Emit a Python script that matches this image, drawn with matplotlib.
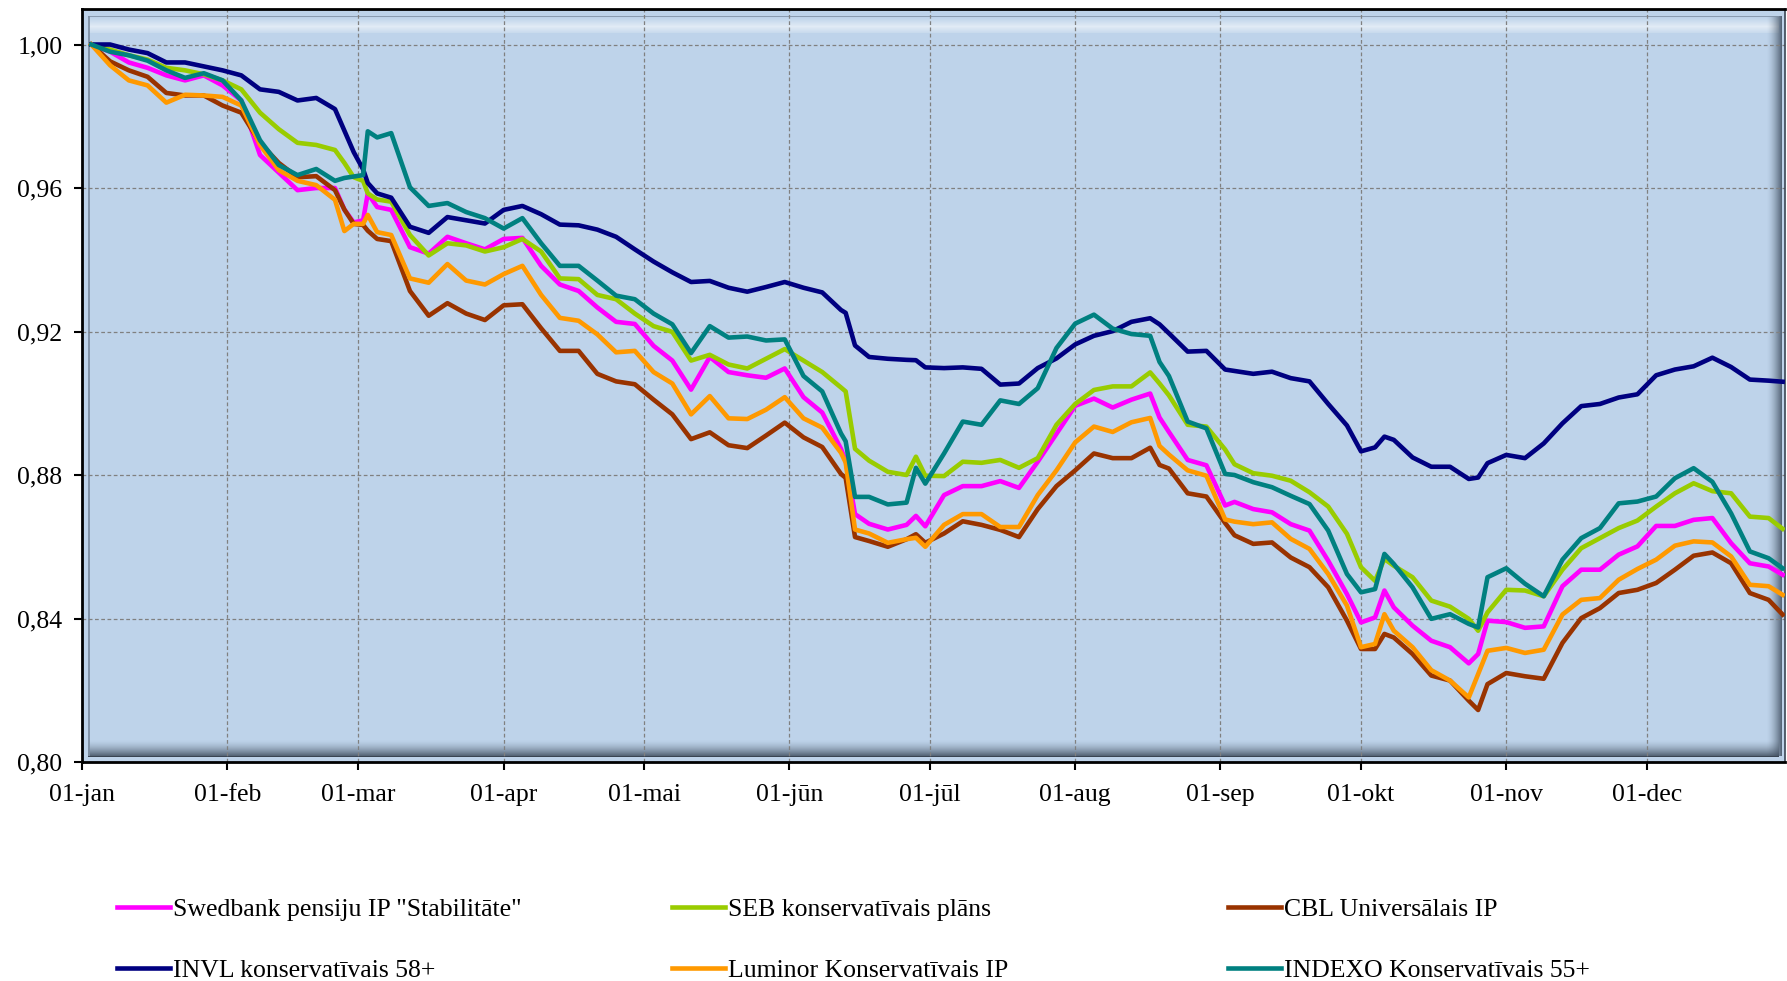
import matplotlib
matplotlib.use("Agg")
import matplotlib.pyplot as plt
from matplotlib.patches import Rectangle
import pandas as pd

# days counted from 1 Jan 2022
day_offsets = [2, 6, 10, 14, 18, 22, 26, 30, 34, 38,
               42, 46, 50, 54, 56, 58, 60, 61, 63, 66,
               70, 74, 78, 82, 86, 90, 94, 98, 102, 106,
               110, 114, 118, 122, 126, 130, 134, 138, 142, 146,
               150, 154, 158, 162, 163, 165, 168, 172, 176, 178,
               180, 184, 188, 192, 196, 200, 204, 208, 212, 216,
               220, 224, 228, 230, 232, 236, 240, 244, 246, 250,
               254, 258, 262, 266, 270, 273, 276, 278, 280, 284,
               288, 292, 296, 298, 300, 304, 308, 312, 316, 320,
               324, 328, 332, 336, 340, 344, 348, 352, 356, 360,
               363]

swedbank = [1.000, 0.998, 0.995, 0.9935, 0.9914, 0.990, 0.9914, 0.9886, 0.9844, 0.9692,
            0.9643, 0.9594, 0.960, 0.960, 0.954, 0.9504, 0.951, 0.9585, 0.9547, 0.9539,
            0.9435, 0.9417, 0.9464, 0.9446, 0.9429, 0.9458, 0.9461, 0.9383, 0.9331, 0.9313,
            0.9267, 0.9227, 0.9221, 0.916, 0.9119, 0.9038, 0.9129, 0.9087, 0.9078, 0.9071,
            0.9097, 0.9017, 0.8974, 0.8873, 0.884, 0.8691, 0.8664, 0.8648, 0.8661, 0.8686,
            0.8657, 0.8744, 0.8769, 0.8769, 0.8783, 0.8764, 0.8837, 0.8915, 0.8993, 0.9013,
            0.8988, 0.901, 0.9027, 0.896, 0.892, 0.8842, 0.8827, 0.8715, 0.8725, 0.8705,
            0.8696, 0.8663, 0.8645, 0.8561, 0.8468, 0.8389, 0.8403, 0.8478, 0.8431, 0.838,
            0.8338, 0.832, 0.8275, 0.8301, 0.8394, 0.839, 0.8374, 0.8378, 0.849, 0.8536,
            0.8536, 0.8578, 0.8601, 0.8658, 0.8658, 0.8675, 0.868, 0.861, 0.8554, 0.8545,
            0.8522]

seb = [1.000, 0.9986, 0.997, 0.9958, 0.9935, 0.9928, 0.9917, 0.990, 0.9875, 0.981,
       0.9764, 0.9726, 0.972, 0.9706, 0.967, 0.963, 0.962, 0.9585, 0.9568, 0.9562,
       0.9469, 0.9412, 0.9446, 0.944, 0.9423, 0.9435, 0.9458, 0.9423, 0.9348, 0.9346,
       0.9302, 0.929, 0.925, 0.9215, 0.9199, 0.9119, 0.9135, 0.9108, 0.9097, 0.9124,
       0.9151, 0.9119, 0.9087, 0.9044, 0.9033, 0.8873, 0.884, 0.8809, 0.880, 0.8851,
       0.8798, 0.8797, 0.8837, 0.8834, 0.8842, 0.882, 0.8847, 0.894, 0.8998, 0.9037,
       0.9047, 0.9047, 0.9086, 0.9055, 0.9022, 0.894, 0.8935, 0.8871, 0.883, 0.8805,
       0.8798, 0.8784, 0.8752, 0.8712, 0.8636, 0.8543, 0.8505, 0.8566, 0.8547, 0.8515,
       0.845, 0.8433, 0.8399, 0.8366, 0.8417, 0.848, 0.8478, 0.8462, 0.8536, 0.8596,
       0.8624, 0.8652, 0.8673, 0.8712, 0.8749, 0.8777, 0.8755, 0.8749, 0.8684, 0.868,
       0.865]

cbl = [1.000, 0.9953, 0.9928, 0.991, 0.9865, 0.9858, 0.9858, 0.983, 0.981, 0.9726,
       0.967, 0.963, 0.9633, 0.9594, 0.954, 0.950, 0.9497, 0.9481, 0.9458, 0.9452,
       0.9313, 0.9244, 0.9279, 0.925, 0.9232, 0.9273, 0.9276, 0.9209, 0.9146, 0.9146,
       0.9082, 0.9061, 0.9053, 0.901, 0.8969, 0.890, 0.8919, 0.8883, 0.8875, 0.891,
       0.8946, 0.8905, 0.8878, 0.8803, 0.8792, 0.8627, 0.8616, 0.860, 0.8621, 0.8635,
       0.8611, 0.8637, 0.8671, 0.8661, 0.8647, 0.8627, 0.8705, 0.8769, 0.8813, 0.886,
       0.8847, 0.8847, 0.8876, 0.8828, 0.8818, 0.8749, 0.874, 0.8666, 0.8632, 0.8608,
       0.8612, 0.857, 0.8543, 0.8487, 0.8394, 0.8315, 0.8315, 0.8357, 0.8347, 0.8301,
       0.8241, 0.8227, 0.8171, 0.8145, 0.8217, 0.8248, 0.8239, 0.8232, 0.8332, 0.8401,
       0.8429, 0.8471, 0.848, 0.8499, 0.8536, 0.8575, 0.8584, 0.8554, 0.8471, 0.8452,
       0.8411]

invl = [1.000, 1.000, 0.9986, 0.9976, 0.995, 0.995, 0.9939, 0.9928, 0.9914, 0.9875,
        0.9868, 0.9844, 0.9851, 0.982, 0.976, 0.970, 0.9652, 0.9614, 0.9585, 0.9573,
        0.9492, 0.9475, 0.9519, 0.951, 0.9501, 0.9539, 0.955, 0.9527, 0.9498, 0.9496,
        0.9484, 0.9464, 0.9429, 0.9395, 0.9365, 0.9338, 0.9341, 0.9322, 0.9311, 0.9324,
        0.9338, 0.9322, 0.9309, 0.926, 0.9252, 0.9161, 0.9129, 0.9124, 0.9121, 0.912,
        0.910, 0.9098, 0.910, 0.9096, 0.9052, 0.9055, 0.9098, 0.9125, 0.9164, 0.9188,
        0.9201, 0.9227, 0.9237, 0.922, 0.9195, 0.9144, 0.9146, 0.9094, 0.909, 0.9082,
        0.9088, 0.907, 0.9061, 0.8998, 0.8938, 0.8866, 0.8877, 0.8907, 0.8898, 0.8849,
        0.8823, 0.8823, 0.8789, 0.8793, 0.8833, 0.8856, 0.8847, 0.8888, 0.8944, 0.8992,
        0.8998, 0.9016, 0.9025, 0.9078, 0.9094, 0.9103, 0.9127, 0.9101, 0.9066, 0.9063,
        0.906]

luminor = [1.000, 0.9942, 0.990, 0.9886, 0.9838, 0.986, 0.9858, 0.9854, 0.983, 0.972,
           0.965, 0.962, 0.9608, 0.9567, 0.948, 0.950, 0.950, 0.9525, 0.9477, 0.9469,
           0.9348, 0.9336, 0.9388, 0.9342, 0.9331, 0.936, 0.9383, 0.9302, 0.9238, 0.923,
           0.9192, 0.9142, 0.9146, 0.9087, 0.9055, 0.8969, 0.902, 0.8958, 0.8956, 0.8982,
           0.9017, 0.8958, 0.8932, 0.8862, 0.8835, 0.8648, 0.8637, 0.8611, 0.8621, 0.8625,
           0.860, 0.8661, 0.8691, 0.8691, 0.8655, 0.8655, 0.8744, 0.8813, 0.8891, 0.8935,
           0.892, 0.8947, 0.8959, 0.8881, 0.8857, 0.8813, 0.8798, 0.8676, 0.867, 0.8663,
           0.8668, 0.8622, 0.8594, 0.8524, 0.8436, 0.832, 0.8329, 0.8412, 0.8366, 0.832,
           0.8256, 0.8227, 0.818, 0.8245, 0.831, 0.8318, 0.8304, 0.8313, 0.8411, 0.8452,
           0.8457, 0.8508, 0.8538, 0.8564, 0.8603, 0.8615, 0.8612, 0.8573, 0.8494, 0.849,
           0.8466]

indexo = [1.000, 0.998, 0.997, 0.9955, 0.9928, 0.9907, 0.992, 0.990, 0.9844, 0.9733,
          0.9664, 0.9636, 0.9653, 0.962, 0.9628, 0.9632, 0.9636, 0.9758, 0.9741, 0.9753,
          0.9602, 0.955, 0.9558, 0.9533, 0.9516, 0.9487, 0.9516, 0.9446, 0.9383, 0.9383,
          0.9342, 0.930, 0.929, 0.925, 0.922, 0.914, 0.9215, 0.9183, 0.9186, 0.9175,
          0.9178, 0.9076, 0.9033, 0.8916, 0.8894, 0.8739, 0.8739, 0.8718, 0.8723, 0.882,
          0.8776, 0.886, 0.8949, 0.894, 0.9008, 0.8998, 0.9042, 0.9154, 0.9222, 0.9247,
          0.9208, 0.9193, 0.9188, 0.9115, 0.9076, 0.8949, 0.893, 0.8803, 0.880, 0.878,
          0.8766, 0.8742, 0.8719, 0.8645, 0.8524, 0.8473, 0.8482, 0.858, 0.8552, 0.8487,
          0.8399, 0.8412, 0.8385, 0.8375, 0.8515, 0.854, 0.8497, 0.8462, 0.8564, 0.8624,
          0.8652, 0.8721, 0.8726, 0.874, 0.8791, 0.8819, 0.8781, 0.8693, 0.8587, 0.8568,
          0.854]

series_names = ['Swedbank pensiju IP "Stabilitāte"', "SEB konservatīvais plāns",
                "CBL Universālais IP", "INVL konservatīvais 58+",
                "Luminor Konservatīvais IP", "INDEXO Konservatīvais 55+"]
series_values = [swedbank, seb, cbl, invl, luminor, indexo]
colors = ["#FF00FF", "#99CC00", "#993300", "#000080", "#FF9900", "#008080"]

month_labels = ["01-jan", "01-feb", "01-mar", "01-apr", "01-mai", "01-jūn",
                "01-jūl", "01-aug", "01-sep", "01-okt", "01-nov", "01-dec"]
y_ticks = [0.80, 0.84, 0.88, 0.92, 0.96, 1.00]
y_tick_labels = ["0,80", "0,84", "0,88", "0,92", "0,96", "1,00"]

start = pd.Timestamp("2022-01-01")
dates = start + pd.to_timedelta(day_offsets, unit="D")
month_ticks = pd.date_range("2022-01-01", periods=12, freq="MS")

plt.rcParams["font.family"] = ["Liberation Serif", "DejaVu Serif"]

FW, FH = 1787, 981
fig = plt.figure(figsize=(FW / 100, FH / 100), dpi=100)
left, right, top, bottom = 82, 1785, 9, 762
ax = fig.add_axes([left / FW, 1 - bottom / FH, (right - left) / FW, (bottom - top) / FH])
ax.set_facecolor("#BED3EA")

lines = []
for name, vals, col in zip(series_names, series_values, colors):
    ln, = ax.plot(dates, vals, color=col, lw=3.3, label=name, zorder=3,
                  solid_joinstyle="round")
    lines.append(ln)

ax.set_xlim(start, start + pd.Timedelta(days=363.5))
ax.set_ylim(0.80, 1.0099)

ax.set_yticks(y_ticks)
ax.set_yticklabels(y_tick_labels)
ax.set_xticks(month_ticks)
ax.set_xticklabels(month_labels)
ax.tick_params(axis="both", direction="out", length=6, width=1.5, labelsize=18.5,
               colors="black")
ax.tick_params(axis="y", pad=8)
ax.tick_params(axis="x", pad=10)

ax.set_axisbelow(True)
ax.grid(True, color="#808080", lw=0.9, ls=(0, (3, 2)))

for s in ["left", "top", "bottom"]:
    ax.spines[s].set_linewidth(2)
    ax.spines[s].set_color("black")
ax.spines["right"].set_linewidth(1.2)
ax.spines["right"].set_color("#3a4654")

# bevelled plot area frame
W, H = right - left, bottom - top


def band(x0, y0, w, h, color, alpha):
    ax.add_patch(Rectangle((x0 / W, y0 / H), w / W, h / H, transform=ax.transAxes,
                           facecolor=color, alpha=alpha, lw=0, zorder=0.2))


for i in range(16):
    a = 0.55 * (1 - abs(i - 6) / 9)
    band(6, H - 24 + i, W - 12, 1, "white", max(a, 0))
for i in range(16):
    a = 0.8 * ((16 - i) / 16) ** 1.6
    band(6, 6 + i, W - 12, 1, "#3d4b5c", a)
for i in range(15):
    a = 0.8 * ((i + 1) / 15) ** 1.6
    band(W - 18 + i, 6, 1, H - 13, "#3d4b5c", a)
band(6, 6, 1.5, H - 13, "#7d8ea2", 0.9)
band(6, H - 8, W - 12, 1.5, "#7d8ea2", 0.8)
band(6, 5, W - 12, 1.5, "#2c3642", 0.9)

# legend, three columns
col_x = [117, 672, 1228]
col_groups = [[0, 3], [1, 4], [2, 5]]
for x, grp in zip(col_x, col_groups):
    leg = fig.legend([lines[i] for i in grp], [series_names[i] for i in grp],
                     loc="upper left", bbox_to_anchor=(x / FW, 1 - 898 / FH),
                     frameon=False, fontsize=18.5, handlelength=2.06,
                     handletextpad=0.12, labelspacing=1.47, borderpad=0,
                     borderaxespad=0)

fig.savefig("out.png", dpi=100)
